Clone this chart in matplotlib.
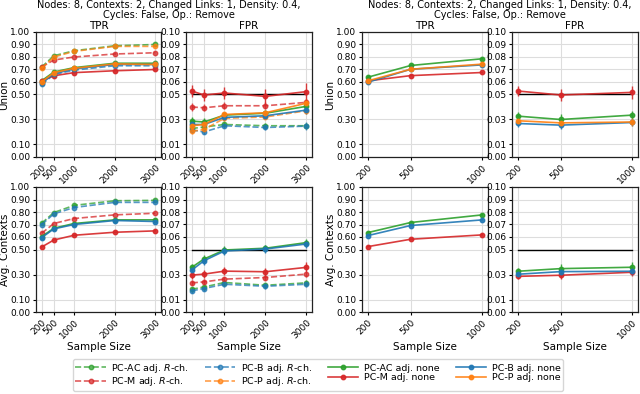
import matplotlib.pyplot as plt

sizes_left = [200, 500, 1000, 2000, 3000]
sizes_right = [200, 500, 1000]

methods = ["AC", "M", "B", "P"]
colors = {"AC": "#2ca02c", "M": "#d62728", "B": "#1f77b4", "P": "#ff7f0e"}

# left block: union
left_union_tpr = {
    ("AC", "R"): [0.72, 0.81, 0.85, 0.89, 0.90],
    ("M", "R"): [0.72, 0.776, 0.80, 0.824, 0.834],
    ("B", "R"): [0.58, 0.66, 0.695, 0.73, 0.73],
    ("P", "R"): [0.71, 0.80, 0.845, 0.885, 0.885],
    ("AC", "none"): [0.61, 0.68, 0.715, 0.75, 0.75],
    ("M", "none"): [0.61, 0.65, 0.675, 0.69, 0.70],
    ("B", "none"): [0.59, 0.665, 0.705, 0.74, 0.74],
    ("P", "none"): [0.60, 0.675, 0.71, 0.745, 0.74],
}
left_union_fpr = {
    ("AC", "R"): [0.0228, 0.024, 0.026, 0.025, 0.025],
    ("M", "R"): [0.040, 0.0394, 0.041, 0.041, 0.0437],
    ("B", "R"): [0.0217, 0.020, 0.025, 0.0236, 0.0247],
    ("P", "R"): [0.0206, 0.022, 0.031, 0.032, 0.037],
    ("AC", "none"): [0.0287, 0.028, 0.0335, 0.035, 0.0405],
    ("M", "none"): [0.0528, 0.0496, 0.0512, 0.0485, 0.0523],
    ("B", "none"): [0.026, 0.026, 0.0317, 0.033, 0.0375],
    ("P", "none"): [0.025, 0.026, 0.034, 0.0354, 0.043],
}
left_union_fpr_err = {
    ("AC", "R"): [0.002, 0.002, 0.002, 0.002, 0.002],
    ("M", "R"): [0.003, 0.003, 0.003, 0.003, 0.003],
    ("B", "R"): [0.002, 0.002, 0.002, 0.002, 0.003],
    ("P", "R"): [0.002, 0.002, 0.002, 0.002, 0.003],
    ("AC", "none"): [0.003, 0.003, 0.002, 0.002, 0.003],
    ("M", "none"): [0.005, 0.005, 0.005, 0.006, 0.007],
    ("B", "none"): [0.002, 0.002, 0.002, 0.002, 0.003],
    ("P", "none"): [0.002, 0.002, 0.002, 0.002, 0.003],
}

# left block: avg. contexts
left_avg_tpr = {
    ("AC", "R"): [0.71, 0.796, 0.853, 0.89, 0.893],
    ("M", "R"): [0.63, 0.708, 0.748, 0.777, 0.79],
    ("B", "R"): [0.70, 0.785, 0.836, 0.877, 0.877],
    ("AC", "none"): [0.603, 0.67, 0.708, 0.737, 0.737],
    ("M", "none"): [0.52, 0.576, 0.614, 0.638, 0.649],
    ("B", "none"): [0.595, 0.665, 0.70, 0.732, 0.724],
}
left_avg_fpr = {
    ("AC", "R"): [0.0182, 0.020, 0.0236, 0.0214, 0.0233],
    ("M", "R"): [0.0233, 0.0241, 0.0263, 0.0276, 0.0303],
    ("B", "R"): [0.0169, 0.0188, 0.0222, 0.0206, 0.0222],
    ("AC", "none"): [0.0357, 0.0424, 0.0496, 0.051, 0.0555],
    ("M", "none"): [0.0295, 0.0303, 0.0327, 0.0322, 0.0357],
    ("B", "none"): [0.0335, 0.041, 0.0488, 0.0504, 0.0544],
}
left_avg_fpr_err = {
    ("AC", "R"): [0.002, 0.002, 0.002, 0.002, 0.002],
    ("M", "R"): [0.002, 0.002, 0.002, 0.002, 0.002],
    ("B", "R"): [0.002, 0.002, 0.002, 0.002, 0.002],
    ("AC", "none"): [0.003, 0.003, 0.003, 0.003, 0.003],
    ("M", "none"): [0.003, 0.003, 0.003, 0.003, 0.004],
    ("B", "none"): [0.003, 0.003, 0.003, 0.003, 0.003],
}

# right block (only "none" adjustment)
right_union_tpr = {
    ("AC", "none"): [0.638, 0.732, 0.786],
    ("M", "none"): [0.609, 0.651, 0.676],
    ("B", "none"): [0.598, 0.702, 0.737],
    ("P", "none"): [0.609, 0.702, 0.743],
}
right_union_fpr = {
    ("AC", "none"): [0.0327, 0.030, 0.0335],
    ("M", "none"): [0.0528, 0.0496, 0.0517],
    ("B", "none"): [0.0268, 0.0255, 0.0276],
    ("P", "none"): [0.029, 0.0273, 0.028],
}
right_union_fpr_err = {
    ("AC", "none"): [0.003, 0.004, 0.003],
    ("M", "none"): [0.004, 0.005, 0.005],
    ("B", "none"): [0.003, 0.003, 0.003],
    ("P", "none"): [0.003, 0.003, 0.003],
}
right_avg_tpr = {
    ("AC", "none"): [0.635, 0.716, 0.777],
    ("M", "none"): [0.523, 0.582, 0.617],
    ("B", "none"): [0.611, 0.692, 0.737],
}
right_avg_fpr = {
    ("AC", "none"): [0.0326, 0.0347, 0.0358],
    ("M", "none"): [0.0285, 0.0294, 0.0318],
    ("B", "none"): [0.0302, 0.0323, 0.0326],
}
right_avg_fpr_err = {
    ("AC", "none"): [0.003, 0.004, 0.004],
    ("M", "none"): [0.002, 0.003, 0.003],
    ("B", "none"): [0.003, 0.003, 0.003],
}

tpr_ticks = [0.0, 0.1, 0.3, 0.5, 0.6, 0.7, 0.8, 0.9, 1.0]
fpr_ticks = [0.0, 0.01, 0.03, 0.05, 0.06, 0.07, 0.08, 0.09, 0.10]
alpha_level = 0.05
suptitle = "Nodes: 8, Contexts: 2, Changed Links: 1, Density: 0.4,\nCycles: False, Op.: Remove"

W, H = 640, 394
fig = plt.figure(figsize=(W / 100, H / 100), dpi=100)


def make_ax(x0, x1, ytop, ybot):
    return fig.add_axes([x0 / W, 1 - ybot / H, (x1 - x0) / W, (ybot - ytop) / H])


def draw(ax, xs, data, err=None):
    order = [(m, a) for a in ["R", "none"] for m in methods]
    for key in order:
        if key not in data:
            continue
        m, a = key
        ls = "--" if a == "R" else "-"
        al = 0.75 if a == "R" else 0.9
        yerr = err[key] if err is not None else None
        ax.errorbar(xs, data[key], yerr=yerr, color=colors[m], ls=ls, lw=1.2,
                    marker="o", ms=3.2, elinewidth=1.0, alpha=al, zorder=3)


def style(ax, xs, ticks, ymax, bottom):
    ax.set_ylim(0, ymax)
    ax.set_yticks(ticks)
    ax.set_yticklabels(["%.2f" % t for t in ticks], fontsize=6.5)
    ax.set_xticks(xs)
    ax.set_xticklabels([str(x) for x in xs], rotation=45, ha="right",
                       rotation_mode="anchor", fontsize=6.5)
    ax.grid(True, color="#dddddd", lw=0.8)
    ax.set_axisbelow(True)
    ax.tick_params(length=2.5, width=0.8, pad=1.5)
    for s in ax.spines.values():
        s.set_color("#222222")
        s.set_linewidth(0.9)
    if bottom:
        ax.set_xlabel("Sample Size", fontsize=7.5, labelpad=1)


blocks = [
    (36, 161, 186, 312, sizes_left,
     [left_union_tpr, left_union_fpr, left_avg_tpr, left_avg_fpr],
     [None, left_union_fpr_err, None, left_avg_fpr_err], 169),
    (362, 488, 512, 638, sizes_right,
     [right_union_tpr, right_union_fpr, right_avg_tpr, right_avg_fpr],
     [None, right_union_fpr_err, None, right_avg_fpr_err], 500),
]

for (tx0, tx1, fx0, fx1, xs, panels, errs, cx) in blocks:
    rows = [(32, 157), (187, 312)]
    for r, (yt, yb) in enumerate(rows):
        ax_t = make_ax(tx0, tx1, yt, yb)
        ax_f = make_ax(fx0, fx1, yt, yb)
        draw(ax_t, xs, panels[2 * r], errs[2 * r])
        draw(ax_f, xs, panels[2 * r + 1], errs[2 * r + 1])
        ax_f.plot([xs[0], xs[-1]], [alpha_level, alpha_level], color="black", lw=1.0, zorder=2)
        style(ax_t, xs, tpr_ticks, 1.0, r == 1)
        style(ax_f, xs, fpr_ticks, 0.10, r == 1)
        ax_t.set_ylabel("Union" if r == 0 else "Avg. Contexts", fontsize=7.5, labelpad=0.5)
        if r == 0:
            ax_t.set_title("TPR", fontsize=7.5, pad=2)
            ax_f.set_title("FPR", fontsize=7.5, pad=2)
    fig.text(cx / W, 1.0, suptitle, ha="center", va="top", fontsize=7, linespacing=1.05)

handles, labels = [], []
for a in ["R", "none"]:
    for m in methods:
        h, = plt.plot([], [], color=colors[m], ls="--" if a == "R" else "-", lw=1.2,
                      marker="o", ms=3.2, alpha=0.75 if a == "R" else 0.9)
        handles.append(h)
        labels.append("PC-%s adj. %s" % (m, "$R$-ch." if a == "R" else "none"))

fig.legend(handles, labels, loc="lower center", bbox_to_anchor=(318 / W, -0.004), ncol=4,
           fontsize=6.8, frameon=True, edgecolor="#cccccc", handlelength=3.2,
           handletextpad=0.6, columnspacing=1.7, borderpad=0.25, labelspacing=0.1)

fig.savefig("out.png", dpi=100)
